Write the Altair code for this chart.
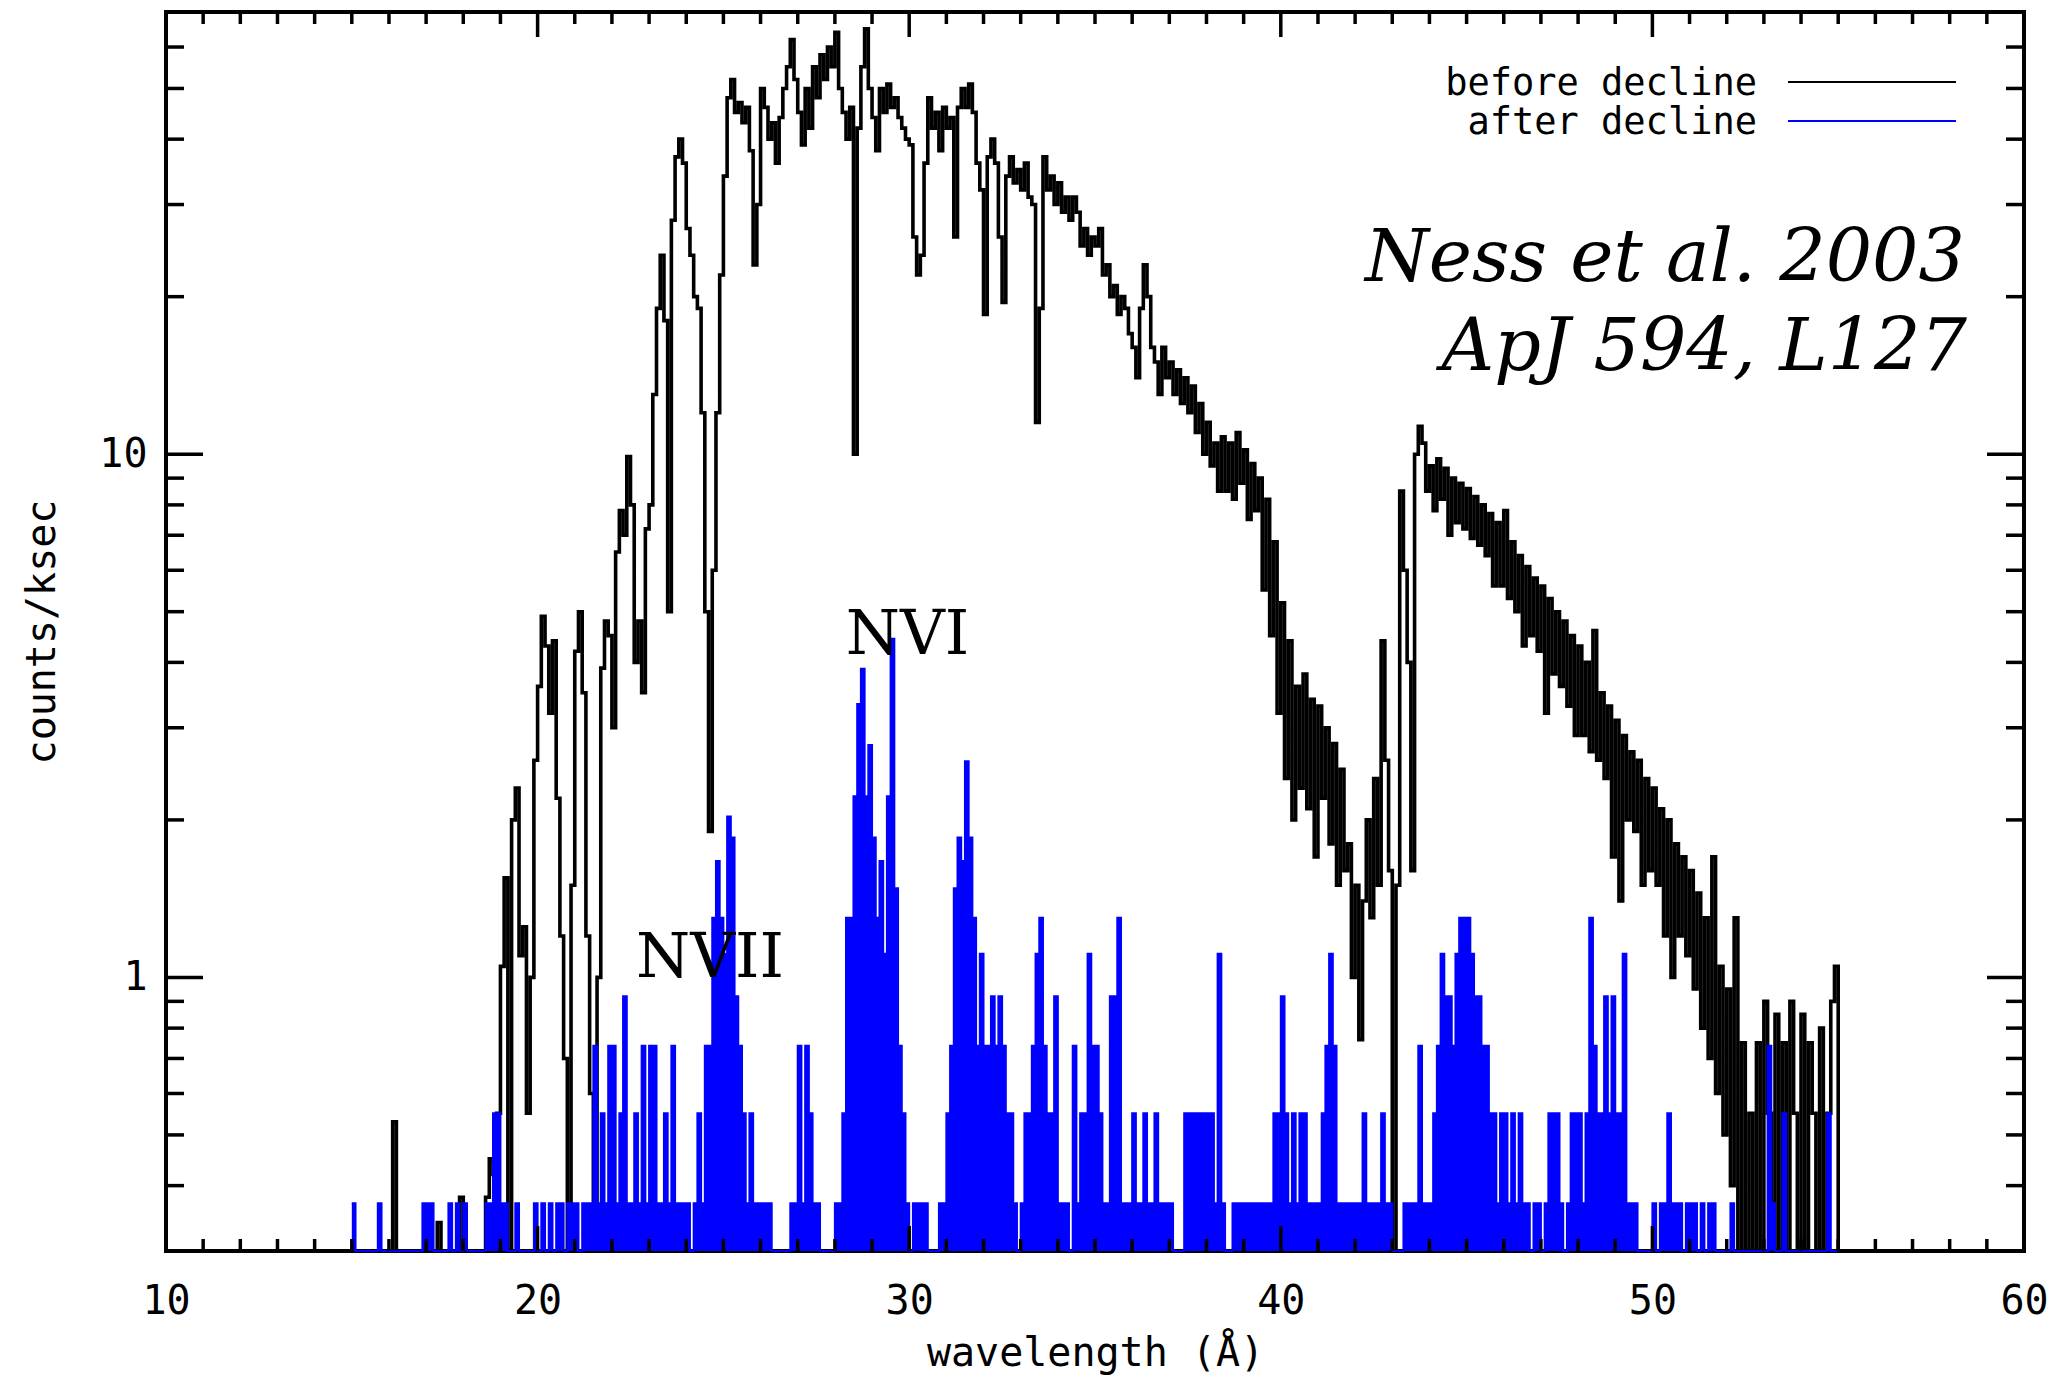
import altair as alt
import pandas as pd

# ---------------- data ----------------
LAM_START = 15.0   # first bin edge, Angstrom
LAM_STEP = 0.1     # bin width, Angstrom

# "before decline" spectrum, counts/ksec, 0.1 A bins from 15.0 to 55.0 (0.3 = at/below axis floor)
before = [
    0.3, 0.3, 0.3, 0.3, 0.3, 0.3, 0.3, 0.3, 0.3, 0.3,          # 15
    0.3, 0.53, 0.3, 0.3, 0.3, 0.3, 0.3, 0.3, 0.3, 0.3,         # 16
    0.3, 0.3, 0.3, 0.34, 0.3, 0.3, 0.3, 0.3, 0.3, 0.38,        # 17
    0.3, 0.3, 0.3, 0.3, 0.3, 0.3, 0.38, 0.45, 0.42, 0.55,      # 18
    1.05, 1.55, 0.3, 2.0, 2.3, 1.1, 1.25, 0.55, 1.0, 2.6,      # 19
    3.6, 4.9, 4.3, 3.2, 4.4, 2.2, 1.2, 0.7, 0.3, 1.5,          # 20
    4.2, 5.0, 3.5, 1.2, 0.6, 0.3, 1.0, 3.9, 4.8, 4.5,          # 21
    3.0, 6.5, 7.8, 7.0, 9.9, 8.0, 4.0, 4.8, 3.5, 7.2,          # 22
    8.0, 13, 19, 24, 18, 5.0, 28, 37, 40, 36,                  # 23
    27, 24, 20, 19, 12, 5.0, 1.9, 6.0, 12, 22,                 # 24
    34, 48, 52, 45, 47, 43, 46, 38, 23, 30,                    # 25
    50, 46, 40, 43, 36, 44, 50, 55, 62, 52,                    # 26
    45, 39, 50, 42, 55, 48, 58, 52, 60, 55,                    # 27
    64, 50, 45, 40, 46, 10, 42, 55, 65, 50,                    # 28
    44, 38, 50, 45, 51, 46, 48, 44, 42, 40,                    # 29
    39, 26, 22, 24, 36, 48, 42, 45, 38, 46,                    # 30
    42, 44, 26, 46, 50, 46, 51, 45, 36, 32,                    # 31
    18.5, 37, 40, 36, 26, 19.5, 34, 37, 33, 35,                # 32
    32, 36, 31, 30, 11.5, 19, 37, 32, 34, 30,                  # 33
    33, 29, 31, 28, 31, 29, 25, 27, 24, 26,                    # 34
    25, 27, 22, 23, 20, 21, 18.5, 20, 19, 17,                  # 35
    16, 14, 19, 23, 20, 16, 15, 13, 16, 14,                    # 36
    15, 13, 14.5, 12.5, 14, 12, 13.5, 11, 12.5, 10,            # 37
    11.5, 9.5, 10.5, 8.5, 10.8, 8.5, 10.5, 8.2, 11.0, 8.8,     # 38
    10.2, 7.5, 9.6, 7.8, 9.0, 5.5, 8.2, 4.5, 6.8, 3.2,         # 39
    5.2, 2.4, 4.4, 2.0, 3.6, 2.3, 3.8, 2.1, 3.4, 1.7,          # 40
    3.3, 2.2, 3.0, 1.8, 2.8, 1.5, 2.5, 1.6, 1.8, 1.0,          # 41
    1.5, 0.76, 1.4, 2.0, 1.3, 2.4, 1.5, 4.4, 2.6, 1.6,         # 42
    0.3, 1.5, 8.5, 6.0, 4.0, 1.6, 10, 11.3, 10.5, 8.5,         # 43
    9.5, 7.8, 9.8, 8.2, 9.4, 7.0, 9.0, 7.4, 8.8, 7.2,          # 44
    8.6, 6.9, 8.3, 6.7, 8.0, 6.4, 7.7, 5.6, 7.4, 5.6,          # 45
    7.8, 5.3, 6.8, 5.0, 6.4, 4.3, 6.1, 4.5, 5.8, 4.2,          # 46
    5.6, 3.2, 5.3, 3.8, 5.0, 3.6, 4.8, 3.3, 4.5, 2.9,          # 47
    4.3, 2.9, 4.0, 2.7, 4.6, 2.6, 3.5, 2.4, 3.3, 1.7,          # 48
    3.1, 1.4, 2.9, 2.0, 2.7, 1.9, 2.6, 1.5, 2.4, 1.6,          # 49
    2.3, 1.5, 2.1, 1.2, 2.0, 1.0, 1.8, 1.2, 1.7, 1.1,          # 50
    1.6, 0.95, 1.45, 0.8, 1.3, 0.7, 1.7, 0.6, 1.05, 0.5,       # 51
    0.95, 0.4, 1.3, 0.3, 0.75, 0.3, 0.55, 0.3, 0.75, 0.3,      # 52
    0.9, 0.55, 0.3, 0.85, 0.3, 0.75, 0.3, 0.9, 0.55, 0.3,      # 53
    0.85, 0.3, 0.75, 0.55, 0.3, 0.8, 0.3, 0.55, 0.9, 1.05,     # 54
    0.3,                                                       # 55.0 end
]

# "after decline" spectrum, counts/ksec, same bins
after = [
    0.37, 0.3, 0.3, 0.3, 0.3, 0.3, 0.3, 0.37, 0.3, 0.3,        # 15
    0.3, 0.3, 0.3, 0.3, 0.3, 0.3, 0.3, 0.3, 0.3, 0.37,         # 16
    0.37, 0.37, 0.3, 0.3, 0.3, 0.3, 0.37, 0.3, 0.37, 0.3,      # 17
    0.37, 0.3, 0.3, 0.3, 0.3, 0.3, 0.37, 0.37, 0.55, 0.55,     # 18
    0.37, 0.37, 0.3, 0.3, 0.37, 0.3, 0.3, 0.3, 0.3, 0.37,      # 19
    0.3, 0.37, 0.3, 0.37, 0.3, 0.37, 0.37, 0.3, 0.37, 0.37,    # 20
    0.37, 0.3, 0.37, 0.37, 0.37, 0.74, 0.37, 0.55, 0.37, 0.74, # 21
    0.74, 0.37, 0.55, 0.92, 0.37, 0.37, 0.55, 0.37, 0.74, 0.37,# 22
    0.74, 0.74, 0.37, 0.37, 0.55, 0.37, 0.74, 0.37, 0.37, 0.37,# 23
    0.37, 0.3, 0.37, 0.55, 0.37, 0.74, 0.74, 1.3, 1.67, 1.3,   # 24
    1.11, 2.03, 1.85, 0.92, 0.74, 0.55, 0.37, 0.55, 0.37, 0.37,# 25
    0.37, 0.37, 0.37, 0.3, 0.3, 0.3, 0.3, 0.3, 0.37, 0.37,     # 26
    0.74, 0.37, 0.74, 0.55, 0.37, 0.37, 0.3, 0.3, 0.3, 0.3,    # 27
    0.37, 0.37, 0.55, 1.3, 1.3, 2.22, 3.33, 3.89, 2.22, 2.78,  # 28
    1.85, 1.3, 1.67, 1.11, 2.22, 4.44, 1.48, 0.74, 0.55, 0.37, # 29
    0.3, 0.37, 0.37, 0.37, 0.37, 0.3, 0.3, 0.3, 0.37, 0.37,    # 30
    0.55, 0.74, 1.48, 1.85, 1.67, 2.59, 1.85, 1.3, 0.74, 1.11, # 31
    0.74, 0.74, 0.92, 0.74, 0.92, 0.74, 0.55, 0.55, 0.37, 0.3, # 32
    0.37, 0.55, 0.55, 0.74, 1.11, 1.3, 0.74, 0.55, 0.55, 0.92, # 33
    0.37, 0.37, 0.37, 0.3, 0.74, 0.37, 0.55, 0.55, 1.11, 0.74, # 34
    0.74, 0.55, 0.37, 0.37, 0.92, 0.92, 1.3, 0.37, 0.37, 0.37, # 35
    0.55, 0.37, 0.37, 0.55, 0.37, 0.37, 0.55, 0.37, 0.37, 0.37,# 36
    0.37, 0.3, 0.3, 0.3, 0.55, 0.55, 0.55, 0.55, 0.55, 0.55,   # 37
    0.55, 0.55, 0.37, 1.11, 0.37, 0.3, 0.3, 0.37, 0.37, 0.37,  # 38
    0.37, 0.37, 0.37, 0.37, 0.37, 0.37, 0.37, 0.37, 0.55, 0.55,# 39
    0.92, 0.55, 0.37, 0.55, 0.37, 0.55, 0.55, 0.37, 0.37, 0.37,# 40
    0.37, 0.55, 0.74, 1.11, 0.74, 0.37, 0.37, 0.37, 0.37, 0.37,# 41
    0.37, 0.37, 0.55, 0.37, 0.37, 0.37, 0.37, 0.55, 0.37, 0.37,# 42
    0.3, 0.3, 0.3, 0.37, 0.37, 0.37, 0.37, 0.74, 0.37, 0.37,   # 43
    0.37, 0.55, 0.74, 1.11, 0.92, 0.92, 0.74, 1.11, 1.3, 1.3,  # 44
    1.3, 1.11, 0.92, 0.92, 0.74, 0.74, 0.55, 0.55, 0.37, 0.55, # 45
    0.55, 0.37, 0.55, 0.37, 0.55, 0.37, 0.37, 0.3, 0.37, 0.37, # 46
    0.3, 0.37, 0.55, 0.55, 0.55, 0.37, 0.3, 0.37, 0.55, 0.55,  # 47
    0.55, 0.37, 0.55, 1.3, 0.74, 0.55, 0.55, 0.92, 0.55, 0.92, # 48
    0.55, 0.55, 1.11, 0.37, 0.37, 0.37, 0.3, 0.3, 0.3, 0.3,    # 49
    0.37, 0.3, 0.37, 0.37, 0.55, 0.37, 0.37, 0.37, 0.3, 0.37,  # 50
    0.37, 0.37, 0.3, 0.37, 0.3, 0.37, 0.37, 0.3, 0.3, 0.3,     # 51
    0.3, 0.37, 0.3, 0.3, 0.3, 0.3, 0.3, 0.3, 0.3, 0.3,         # 52
    0.3, 0.74, 0.37, 0.3, 0.3, 0.55, 0.3, 0.3, 0.3, 0.3,       # 53
    0.3, 0.3, 0.3, 0.3, 0.3, 0.3, 0.3, 0.55, 0.3, 0.3,         # 54
    0.3,                                                       # 55.0 end
]

x_ticks_major = [10, 20, 30, 40, 50, 60]
y_ticks_major = [1, 10]
x_ticks_minor = [v for v in range(11, 60) if v % 10 != 0]
y_ticks_minor = [0.4, 0.5, 0.6, 0.7, 0.8, 0.9, 2, 3, 4, 5, 6, 7, 8, 9, 20, 30, 40, 50, 60]
Y_FLOOR, Y_TOP = 0.3, 70

ion_labels = ["NVII", "NVI"]
ion_lam = [22.65, 28.29]
ion_level = [1.0, 4.15]

legend_labels = ["before decline", "after decline"]
legend_colors = ["black", "blue"]

# ---------------- chart ----------------
W, H = 1858, 1239
MONO = "DejaVu Sans Mono"

lam = [round(LAM_START + LAM_STEP * i, 2) for i in range(len(before))]
spec = pd.DataFrame({"lam": lam, "before": before, "after": after, "floor": Y_FLOOR})

xs = alt.Scale(domain=[10, 60], nice=False, zero=False)
ys = alt.Scale(type="log", domain=[Y_FLOOR, Y_TOP], nice=False)

x_axis = alt.Axis(values=x_ticks_major, format="d", title="wavelength (Å)",
                  ticks=False, tickSize=0, domain=False, grid=False,
                  labelFont=MONO, labelFontSize=40, labelColor="black", labelPadding=30,
                  labelFlush=False,
                  titleFont=MONO, titleFontSize=40, titleFontWeight="normal",
                  titleColor="black", titlePadding=12)
y_axis = alt.Axis(values=y_ticks_major, format="~g", title="counts/ksec",
                  ticks=False, tickSize=0, domain=False, grid=False,
                  labelFont=MONO, labelFontSize=40, labelColor="black", labelPadding=19,
                  labelFlush=False,
                  titleFont=MONO, titleFontSize=40, titleFontWeight="normal",
                  titleColor="black", titlePadding=36)

X = lambda f: alt.X(f, scale=xs, axis=x_axis)
Y = lambda f: alt.Y(f, scale=ys, axis=y_axis)

black = alt.Chart(spec).mark_line(interpolate="step-after", color="black",
                                  strokeWidth=3.6).encode(x=X("lam:Q"), y=Y("before:Q"))
blue_fill = alt.Chart(spec).mark_area(interpolate="step-after", color="blue",
                                      opacity=1).encode(x=X("lam:Q"), y=Y("after:Q"),
                                                        y2="floor:Q")
blue_line = alt.Chart(spec).mark_line(interpolate="step-after", color="blue",
                                      strokeWidth=2).encode(x=X("lam:Q"), y=Y("after:Q"))

def xtick_layer(vals, length):
    d = pd.DataFrame({"v": vals})
    bot = alt.Chart(d).mark_rule(color="black", strokeWidth=3.5).encode(
        x=X("v:Q"), y=alt.value(H), y2=alt.value(H - length))
    top = alt.Chart(d).mark_rule(color="black", strokeWidth=3.5).encode(
        x=X("v:Q"), y=alt.value(0), y2=alt.value(length))
    return [bot, top]

def ytick_layer(vals, length):
    d = pd.DataFrame({"v": vals})
    left = alt.Chart(d).mark_rule(color="black", strokeWidth=3.5).encode(
        y=Y("v:Q"), x=alt.value(0), x2=alt.value(length))
    right = alt.Chart(d).mark_rule(color="black", strokeWidth=3.5).encode(
        y=Y("v:Q"), x=alt.value(W), x2=alt.value(W - length))
    return [left, right]

ticks = (xtick_layer(x_ticks_minor, 12) + xtick_layer(x_ticks_major[1:-1], 25)
         + ytick_layer(y_ticks_minor, 18) + ytick_layer(y_ticks_major, 37))

ions = alt.Chart(pd.DataFrame({"t": ion_labels, "lam": ion_lam, "lev": ion_level})).mark_text(
    align="left", baseline="alphabetic", font="DejaVu Serif", fontSize=62, color="black"
).encode(x=X("lam:Q"), y=Y("lev:Q"), text="t:N")

one = pd.DataFrame({"k": [0]})
cite1 = alt.Chart(one).mark_text(text="Ness et al. 2003", align="right", baseline="alphabetic",
                                 font="DejaVu Serif", fontStyle="italic", fontSize=73,
                                 color="black").encode(x=alt.value(1799), y=alt.value(269))
cite2 = alt.Chart(one).mark_text(text="ApJ 594, L127", align="right", baseline="alphabetic",
                                 font="DejaVu Serif", fontStyle="italic", fontSize=73,
                                 color="black").encode(x=alt.value(1801), y=alt.value(358))

leg = []
for i, (lab, col) in enumerate(zip(legend_labels, legend_colors)):
    ly = 70 + 39 * i
    leg.append(alt.Chart(one).mark_text(text=lab, align="right", baseline="alphabetic",
                                        font=MONO, fontSize=37, color="black"
                                        ).encode(x=alt.value(1591), y=alt.value(ly + 13)))
    leg.append(alt.Chart(one).mark_rule(color=col, strokeWidth=2).encode(
        x=alt.value(1622), x2=alt.value(1790), y=alt.value(ly)))

chart = alt.layer(black, blue_fill, blue_line, *ticks, ions, cite1, cite2, *leg).properties(
    width=W, height=H,
    autosize=alt.AutoSizeParams(type="none"),
    padding={"left": 166, "top": 12, "right": 31, "bottom": 125},
    background="white",
).configure_view(stroke="black", strokeWidth=4)

chart.save("out.html", embed_options={"renderer": "svg", "actions": False})
